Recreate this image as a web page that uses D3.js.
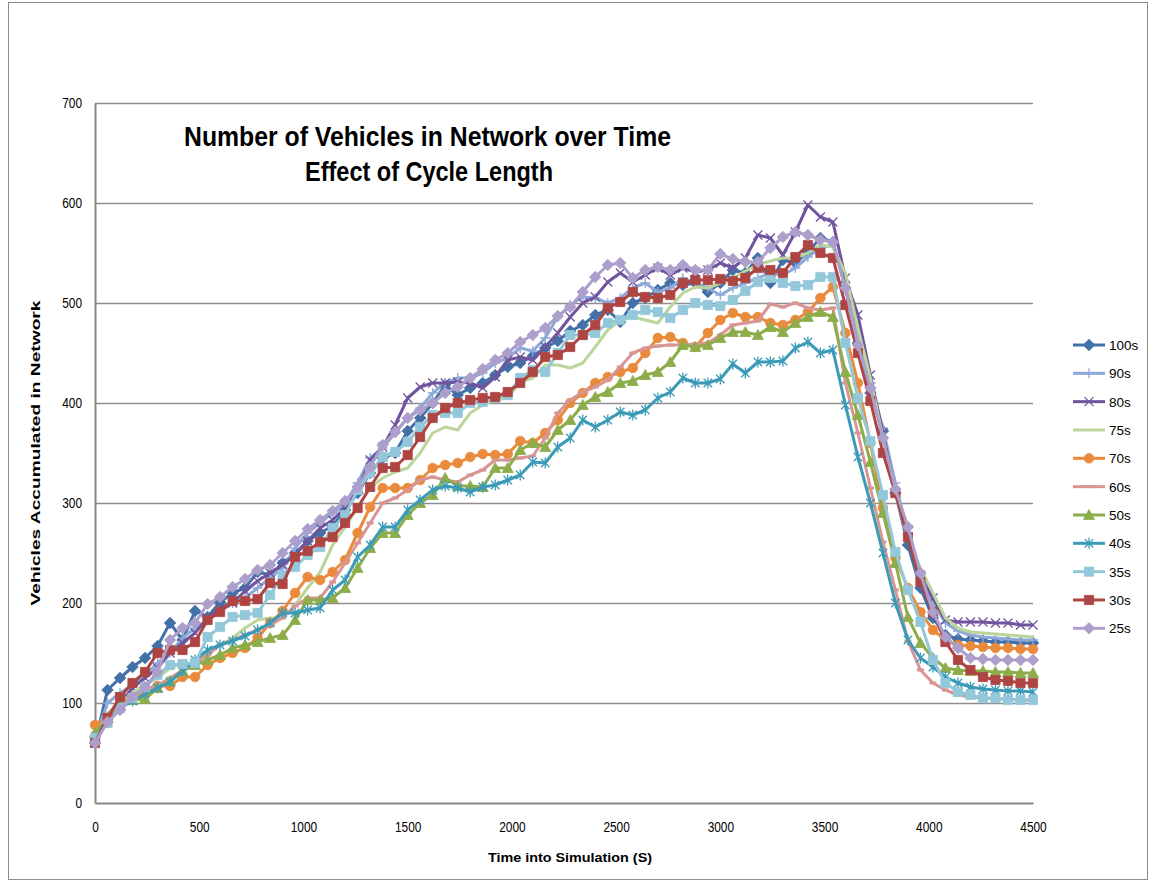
<!DOCTYPE html>
<html><head><meta charset="utf-8">
<script src="https://cdn.jsdelivr.net/npm/d3@7/dist/d3.min.js"></script>
<style>
body{margin:0;background:#fff;}
svg{display:block;font-family:"Liberation Sans",Arial,sans-serif;}
</style>
</head><body>
<svg id="chart" width="1150" height="885"></svg>
<script>
// ---------- DATA ----------
const times = [0,60,120,180,240,300,360,420,480,540,600,660,720,780,840,900,960,1020,1080,1140,1200,1260,1320,1380,1440,1500,1560,1620,1680,1740,1800,1860,1920,1980,2040,2100,2160,2220,2280,2340,2400,2460,2520,2580,2640,2700,2760,2820,2880,2940,3000,3060,3120,3180,3240,3300,3360,3420,3480,3540,3600,3660,3720,3780,3840,3900,3960,4020,4080,4140,4200,4260,4320,4380,4440,4500];

const s100 = [60,113,125,136,145,157,180,163,192,186, 201,210,215,231,228,240,250,262,270,277, 293,310,330,345,350,372,385,400,418,408, 415,420,428,436,440,447,455,462,472,478, 488,493,481,500,505,513,520,518,520,511, 520,533,530,545,520,543,540,551,565,561, 515,460,410,372,310,258,215,185,168,164, 163,162,161,161,160,160];
const s90  = [65,100,110,118,128,140,150,165,175,183, 192,200,205,215,225,235,255,270,280,290, 300,320,345,355,370,385,395,410,420,425, 425,430,440,445,455,452,465,486,498,506, 505,500,505,515,520,511,515,525,520,515, 508,515,520,525,530,528,535,546,555,558, 520,470,420,375,320,270,225,200,180,172, 168,166,165,164,163,163];
const s80  = [62,85,100,115,125,135,150,160,170,185, 195,200,212,222,230,238,248,262,275,283, 295,313,343,356,378,405,416,420,420,421, 420,415,426,443,446,443,456,470,486,500, 506,521,530,521,528,535,528,535,531,533, 540,535,545,568,565,548,571,598,586,581, 525,488,428,370,310,273,228,205,183,181, 181,181,180,180,178,178];
const s75  = [70,90,100,110,118,125,135,140,140,150, 158,165,175,183,185,185,198,215,231,258, 276,296,315,325,331,335,350,370,376,373, 390,398,403,405,421,425,438,438,435,440, 456,473,483,486,483,480,496,510,516,515, 520,525,532,538,542,545,545,550,558,556, 530,475,425,365,310,265,235,210,185,175, 171,170,169,168,167,166];
const s70  = [78,85,95,105,110,117,117,126,126,138, 145,150,155,165,180,192,210,226,223,231, 243,270,296,315,315,315,323,335,338,340, 346,349,348,349,362,360,370,383,400,410, 420,426,431,435,450,465,466,460,456,470, 483,490,486,486,480,478,483,491,505,516, 470,420,360,295,245,215,191,173,163,158, 157,156,155,155,154,154];
const s60  = [70,88,100,108,113,118,125,133,140,148, 158,163,168,173,178,185,197,205,205,221, 240,260,280,300,305,313,323,326,323,321, 328,333,343,343,345,347,365,390,403,411, 416,423,436,450,455,457,458,458,459,460, 468,478,480,482,499,496,500,495,493,495, 420,370,315,261,213,162,133,120,113,108, 106,105,104,104,103,103];
const s50  = [70,85,98,103,104,115,122,132,138,143, 148,155,158,161,165,168,183,203,203,205, 215,235,255,270,270,288,300,308,325,317, 317,316,335,335,353,360,356,373,383,398, 406,411,420,422,428,431,441,458,456,458, 465,471,471,468,476,471,480,486,491,486, 431,388,341,290,240,186,160,145,135,133, 132,132,131,131,130,130];
const s40  = [65,82,95,102,109,115,121,132,143,153, 158,162,167,173,180,190,190,193,195,213, 223,246,258,276,276,293,303,313,317,315, 311,316,318,323,328,341,340,356,365,383, 376,383,391,388,393,405,411,425,420,420, 424,439,430,441,441,442,455,461,450,453, 398,346,300,250,200,163,145,136,126,120, 116,114,113,112,112,111];
const s35  = [65,80,95,105,116,128,138,139,140,166, 176,186,188,190,208,228,236,248,256,275, 288,313,330,346,351,361,376,388,390,390, 400,401,405,408,425,433,431,450,468,468, 470,480,483,488,493,491,485,493,500,498, 497,503,512,521,525,520,517,518,526,526, 460,405,362,308,251,213,181,143,120,111, 108,105,105,103,103,103];
const s30  = [60,85,106,120,131,150,153,153,161,183, 191,202,202,204,220,219,246,252,261,266, 280,295,316,335,336,348,366,385,395,400, 403,405,406,411,420,431,446,448,456,468, 478,495,501,511,506,505,508,520,523,523, 524,522,525,535,533,530,546,558,550,545, 498,450,402,350,310,266,221,191,161,143, 133,126,123,122,120,120];
const s25  = [60,81,93,106,116,131,163,175,180,199, 206,216,224,233,238,250,262,274,283,292, 302,316,336,358,371,385,393,400,410,416, 425,434,443,450,461,468,475,487,496,511, 526,538,540,525,533,536,533,538,533,533, 549,544,541,541,555,566,571,568,563,561, 515,458,415,365,314,276,230,191,166,155, 145,144,143,143,143,143];

const seriesNames = ["100s","90s","80s","75s","70s","60s","50s","40s","35s","30s","25s"];
const seriesValues = [s100,s90,s80,s75,s70,s60,s50,s40,s35,s30,s25];
const seriesColors = ["#4470A8","#8EA9D9","#71549E","#BBD59B","#E98A3C","#D99594","#8DAC4A","#3B9BB7","#93C7DA","#AE4543","#AC9FCB"];
const seriesMarkers = ["diamond","plus","x","none","circle","dash","triangle","star","square","square","diamond"];

const yTicks = [0,100,200,300,400,500,600,700];
const xTicks = [0,500,1000,1500,2000,2500,3000,3500,4000,4500];
const titleLines = ["Number of Vehicles in Network over Time","Effect of Cycle Length"];
const xTitle = "Time into Simulation (S)";
const yTitle = "Vehicles Accumulated in Network";

// ---------- LAYOUT ----------
const svg = d3.select("#chart");
const x = d3.scaleLinear().domain([0,4500]).range([95,1033]);
const y = d3.scaleLinear().domain([0,700]).range([803,103]);
const fmt = d3.format("d");

// outer border
svg.append("rect").attr("x",8.5).attr("y",2.5).attr("width",1139).attr("height",877)
  .attr("fill","none").attr("stroke","#8c8c8c").attr("stroke-width",1);

// gridlines
const grid = svg.append("g").attr("transform","translate(95,0)")
  .call(d3.axisLeft(y).tickValues(yTicks.filter(v=>v>0)).tickSize(-938).tickFormat(""));
grid.select(".domain").remove();
grid.selectAll("line").attr("stroke","#8e8e8e").attr("stroke-width",1.3);

// y axis
const yAxis = svg.append("g").attr("transform","translate(95,0)")
  .call(d3.axisLeft(y).tickValues(yTicks).tickFormat(fmt).tickSize(0).tickPadding(13));
yAxis.select(".domain").attr("stroke","#868686").attr("stroke-width",2);
yAxis.selectAll("text").attr("font-size",14).attr("fill","#000")
  .attr("textLength",d=>fmt(d).length*6.6).attr("lengthAdjust","spacingAndGlyphs");

// x axis
const xAxis = svg.append("g").attr("transform","translate(0,803)")
  .call(d3.axisBottom(x).tickValues(xTicks).tickFormat(fmt).tickSize(0).tickPadding(19));
xAxis.select(".domain").attr("stroke","#868686").attr("stroke-width",2);
xAxis.selectAll("text").attr("font-size",14).attr("fill","#000")
  .attr("textLength",d=>fmt(d).length*6.6).attr("lengthAdjust","spacingAndGlyphs");

// axis titles
svg.append("text").attr("x",570).attr("y",862).attr("text-anchor","middle")
  .attr("font-size",12.5).attr("font-weight","bold").attr("textLength",164).attr("lengthAdjust","spacingAndGlyphs")
  .text(xTitle);
svg.append("text").attr("transform","translate(40,453) rotate(-90)").attr("text-anchor","middle")
  .attr("font-size",12.5).attr("font-weight","bold").attr("textLength",305).attr("lengthAdjust","spacingAndGlyphs")
  .text(yTitle);

// title
svg.append("text").attr("x",184).attr("y",146).attr("font-size",27).attr("font-weight","bold")
  .attr("textLength",487).attr("lengthAdjust","spacingAndGlyphs").text(titleLines[0]);
svg.append("text").attr("x",305).attr("y",181).attr("font-size",27).attr("font-weight","bold")
  .attr("textLength",248).attr("lengthAdjust","spacingAndGlyphs").text(titleLines[1]);

// marker shapes
function markerPath(type){
  switch(type){
    case "diamond": return "M0,-5.8L5.8,0L0,5.8L-5.8,0Z";
    case "square": return "M-4.6,-4.6H4.6V4.6H-4.6Z";
    case "circle": return "M-4.8,0A4.8,4.8 0 1,0 4.8,0A4.8,4.8 0 1,0 -4.8,0Z";
    case "triangle": return "M0,-5.5L5.5,4.5L-5.5,4.5Z";
    case "plus": return "M-5,0H5M0,-5V5";
    case "x": return "M-4.5,-4.5L4.5,4.5M-4.5,4.5L4.5,-4.5";
    case "star": return "M-4.2,-4.2L4.2,4.2M-4.2,4.2L4.2,-4.2M0,-5.5V5.5";
    case "dash": return "M-3.5,0H3.5";
    default: return "";
  }
}
const filled = t => ["diamond","square","circle","triangle"].includes(t);

function drawMarker(g, type, color){
  if(type==="none") return;
  const p = g.append("path").attr("d",markerPath(type));
  if(filled(type)) p.attr("fill",color).attr("stroke",color).attr("stroke-width",0.8);
  else p.attr("fill","none").attr("stroke",color).attr("stroke-width",type==="dash"?3:1.3);
}

const line = d3.line().x((d,i)=>x(times[i])).y(d=>y(d));
const plot = svg.append("g");
seriesValues.forEach((vals,si)=>{
  const col = seriesColors[si];
  const g = plot.append("g");
  g.append("path").datum(vals).attr("d",line).attr("fill","none")
    .attr("stroke",col).attr("stroke-width",3).attr("stroke-linejoin","round");
  vals.forEach((v,i)=>{
    const m = g.append("g").attr("transform",`translate(${x(times[i])},${y(v)})`);
    drawMarker(m, seriesMarkers[si], col);
  });
});

// legend
const ly = d3.scaleLinear().domain([0,10]).range([345,628.3]);
const leg = svg.append("g");
seriesNames.forEach((name,si)=>{
  const gy = ly(si);
  const col = seriesColors[si];
  leg.append("line").attr("x1",1073).attr("x2",1105).attr("y1",gy).attr("y2",gy)
    .attr("stroke",col).attr("stroke-width",3);
  const m = leg.append("g").attr("transform",`translate(1089,${gy})`);
  drawMarker(m, seriesMarkers[si], col);
  leg.append("text").attr("x",1109).attr("y",gy+5).attr("font-size",13.5).attr("fill","#000").text(name);
});
</script>
</body></html>
